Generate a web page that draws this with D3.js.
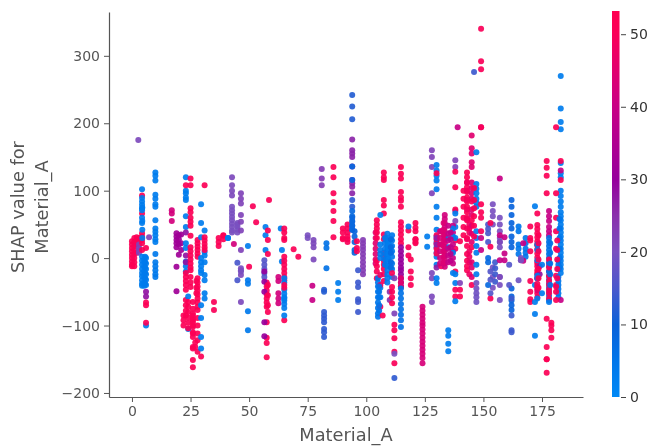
<!DOCTYPE html>
<html><head><meta charset="utf-8">
<script src="https://cdn.jsdelivr.net/npm/d3@7/dist/d3.min.js"></script>
<style>
html,body{margin:0;padding:0;background:#fff;overflow:hidden}
svg{display:block;filter:blur(.55px)}
text{font-family:"DejaVu Sans",sans-serif}
</style></head><body>
<script>
const xLabel = "Material_A";
const yLabelLines = ["SHAP value for", "Material_A"];
const xTicks = [0,25,50,75,100,125,150,175];
const yTicks = [-200,-100,0,100,200,300];
const barTicks = [0,10,20,30,40,50];
const barStops = [[0,"#0088f5"],[5,"#0076ea"],[10,"#0a60d8"],[15,"#4a58cc"],[20,"#7a50c0"],[25,"#8a30ac"],[30,"#96009c"],[40,"#c80085"],[50,"#fa0058"],[53.2,"#ff0050"]];

// one entry per vertical strip of dots: x value, colour feature value, SHAP values
const stripX = [
0,1,2,3,2.7,3,
4.3,4.3,4.3,7.3,6,6,6,10,10,
17,19,20,21,19,
23,23,23,25,25,26,26,24,27,
28,28,29.5,29.5,31,31,35,
37,39,41,
42.7,42.7,45,46.5,46.5,41,43.5,51.6,58.5,53,49.5,45,46.5,50,49.5,
57,58,56.5,57.5,56.5,58,
62.5,63.5,64,65,65,65,65,69,71,
75,77.5,77,83,82,82,81,86,88,
90,92,94,94,94,94,98.6,96.5,95,96,
104,104.5,105,107.5,107.5,106,106,109,111,110,111,112,107,
114.8,114.8,114.8,114.8,112,112,112,
118,118,121,119,121,124,
126,128,128,130,130,130,132,133.5,135,
138,138,138,137,137,140,140,135,139,143,144,145,145,147,147,147,149,149,149,146,
152,154,153,155,157,152,153,159,157,157,
162,162,162,161,165,168,167,170,170,166,165,
172,173,173,173,174,173,175,
178,178,178,177,179,177,178,
183,183,182,181,182,183,181,183,177,
// denser parts of the cloud
5.2,5.6,4.4,
22,24,26,27.5,
105.5,108,109.5,110.5,
131.5,133,135,136,
141.5,143,146,
173.5,178.5,182.5,181.5
];
const stripC = [
51,51,51,51,21,22,
3,51,3,22,3,28,51,3,4,
42,32,32,32,32,
3,51,28,51,51,51,51,3,51,
51,51,3,51,3,51,50,
51,51,3,
21,20,20,22,21,3,42,50,50,50,3,15,20,50,4,
3,51,16,51,30,51,
42,3,3,51,3,51,3,51,51,
20,21,40,6,12,13,23,51,3,
51,50,12,26,13,8,23,14,9,51,
45,51,5,51,51,3,48,3,4,25,51,22,51,
51,30,45,6,50,20,13,
51,4,51,51,51,43,
3,22,21,3,51,27,49,42,4,
22,51,3,40,3,51,22,3,40,51,48,45,51,3,3,19,50,40,51,14,
15,20,51,14,20,8,16,40,40,21,
9,9,14,16,5,5,40,51,51,20,19,
3,51,51,45,28,3,3,
40,6,51,51,51,51,4,
3,3,6,51,5,40,51,51,51,
3,4,3,
51,51,51,51,
5,4,3,7,
42,44,40,38,
51,49,51,
51,6,5,51
];
const stripY = [
[25,20,15,10,5,0,-5,-10,-12],[30,24,18,12,6,0,-6,-12],[31,26,20,8],[30,27],[175],[20,15,12,8],
[2,-4,-10,-16,-22,-27,-33,-38,-41],[93,66,37,32,27,22,12],[102,89,84,79,74,71,60,52],[31],[0,-8,-16,-24,-32,-40,-100],[-50,-57],[15,-70,-66,-96],[127,122,115,94,88,80,76,56,44,39,34,28,24],[6,-6,-12,-18,-24,-28],
[71,66,55],[37,32,27,22,16],[34,28,20,5],[35,22,12],[-13,-49],
[120,100,96,90,86,62,46,22,15,-5,-12,-20],[108,-22,-28,-34,-40,-47,-62,-70,-78,-85],[38,4,-6],[118,108,74,68,60,54,48,33],[16,10,4,-2,-8,-14,-18,-28,-36,-43],[-65,-75,-82,-90,-95,-102,-110,-117],[-132,-134,-151,-162],[-57,-105],[-125,-132],
[27,22,17,12,7,2],[-30,-36,-42,-48,-54,-60,-66,-72,-77,-89,-100,-112,-122,-139],[80,52,31,0,-6,-12,-18,-22,-70,-89,-117,-134],[-146],[41,9,4,-6,-25,-33,-52,-60],[108,31,26,21,16,12],[-65,-77],
[30,24,18],[34,28,33],[30],
[120,108,100,93],[76,71,66,61,56,51,46,41,38],[52,47,42,38,50],[96,88,81,64,54,41,12],[-18,-25,-65],[30],[21],[77],[86],[53],[18],[-7,-33],[-15,-20],[-13],[-33,-38,-79,-107],
[46,34,12],[41,27,6],[-3,-10,-16,-22,-28],[-36,-42,-48,-54,-60,-66,-72,-118,-126,-147,-95],[-20,-35,-50,-95,-116],[-40,-55,-70,-80],
[-28,-34,-52,-60,-67],[44],[12,-5],[44,38,30,27,2,-4,-10,-16,-22,-28,-33,-92],[-30,-36,-47,-53,-58,-63,-68,-74,-85],[-40,-44],[-60],[13],[2],
[34,30],[27,22,16,-2],[-41,-62],[22,15,-15],[-47,-50],[-80,-85,-90,-95,-105,-110,-117],[132,118,108],[135,120,96,83,70,55,31],[-37,-50,-62],
[44,38,30,28],[50,44,38,32,28,24],[242,225,206],[176,160,155,150,136,116,111,106,96],[60,54,48,42,86,76],[136,116,70,62,55,48,42],[27,22,17,12,6,0,-6,-12,-18,-24],[-18,-43,-36,-61,-65,-80],[40,32,24,12,8],[25,15,10],
[38,30,22,14,6,-2,-8],[56,50,44,38,30,-4,-12,-20,-30],[-30,-36,-42,-50,-58,-66,-74,-82,-87],[127,120,116,86,78,66,35,28],[8,2,-4,-10,-16,-24,-34],[64,20,12,6,0,-44,-58],[-25,-40,-72],[36,30,24,18,12,6,0,-6,-12,-18,-24,-30,-36],[34,26,18,10,2,-8,-16,-28],[-50,-62],[-43,-50,-58,-67,-22],[-30,-82],[-85],
[135,125,118,98,90,85,76,53,47,41,35,28,22],[16,10,4,-2,-8,-14,-18,-24,-30,-36,-42],[-30,-36,-42],[-45,-52,-60,-68,-76,-84,-92,-102],[-99,-107,-119,-139,-156],[-142],[-178],
[41,16,4],[47],[52,45,40,28,24],[-2,-20,-40,-30],[22,28],[-72,-78,-84,-90,-96,-100,-106,-112,-118,-124,-130,-136,-142,-148,-156],
[17,32],[160,150,135,96],[-22,-30,-57,-65],[138,130,122,115,102,76,60,42,32,24,16,8,2,-10,-30,-37],[126,34,28,22,14,7],[30,20,-14],[40,20,-12],[64,58,52,46,40,34,28,22,16,10,4,-2,-8,-13],[30,16],
[145,135,70,55],[128,105,72,26,14,-20,-47,-57],[66,46,30,-37,-24,-64],[48,38,20,10,0,-8],[44,32,8,-22],[-47,-57,25],[-37],[-107,-115,-127,-138],[194],[127,120,112,105,98,90,84,76,68,60,56,30,18,6,-4,-12,-18],[50,44,38,10,2,-6,-24],[182,163,155,142,135,112,104,96,88,72,64,48,36,24,-6,-14,-28],[84,56,16,-40],[157,110,103,96,88,82,76,40,-24,-10],[30,18,8],[-37,-45,-52,-58,-65],[340,292,280,60,40],[194,30,12],[194,80,68],[276],
[50,43,37,24],[80,70,62,50,-14,-28,-44],[17,52,-60],[-6,-15,-24,-35],[60,50,40,30,24,16,-28,-62,-40],[0,-6,-40],[-20,-32,-52],[31,7,-3],[-3,118,34],[-28,24],
[86,76,64,52,44,32,24,16],[-45,-57,-63,-70,-77],[-85,-107,-110,-60],[-40,-10],[47,40,20,14,6],[30,22,14,8,2],[-4,22],[47,30,10,-34,-61,-50],[26,-65],[-3,0,-3],[-33],
[77,-65,-83,-115,-40],[66,49,43,37,31,25,19,13,7,1,-5,-12,-18,-24,-30,-38,-45,-52],[-58,-42,20,-22,-8],[-30,-48],[-12,-24],[20,12,-3,-30,-60,-26],[-52,-10],
[70,62,55,46,40,34,-8,-20],[30,24,18,12,6,0,-6,-12,-20,-26,-32,-38,-44,-50,-56,-62],[-2,-14,-27,-34,-40,-47,-52,-60],[-90,-132,-150,-170],[-96,-100,-107,-118],[-150,96,144],[-65],
[126,141,222,270,202,191],[120,100,92,84,76,68,62,56,50,44,38,32,26,20,14,8,2,-4,-10,-16,-22],[-4,-10,-16],[60,40,14,-26,-40],[-28,-34,-40,-46,-52,-58],[-62,130],[194,96,-62,-50,-42],[116,144],[134,122],
[-4,-12,-20,-28,-36,-41],[2,-6,-14,-22,-30,-38],[30,42,55,75],
[-85,-92,-100],[-65,-72,-80,-88,-96,-104],[-85,-92,-100,-112],[-34,-44,-52],
[-42,-50,-58,-70,-78],[30,22,14,6,-2,-10],[22,14,6,-2,-12],[28,16,8,-6,-14],
[40,30,20,10,0,-8],[52,42,34,26,18,10,2,-6],[48,36,26,14,4,-6],[38,28,16,6,-4],
[100,88,76,60,46,34],[112,100,86,72,58,44,28],[104,86,74,62,48,32],
[34,22,10,-2,-16,-30,-44],[22,8,-8,-24,-40],[58,44,30,14,0,-14],[26,12,-2,-16,-30]
];

const W = 649, H = 446;
const x = d3.scaleLinear().domain([-9.8,192.5]).range([109,583]);
const y = d3.scaleLinear().domain([-206,365]).range([397,12]);
const color = d3.scaleLinear().domain(barStops.map(d=>d[0])).range(barStops.map(d=>d[1])).clamp(true);
const barY = d3.scaleLinear().domain([0,53.2]).range([397,11]);

const svg = d3.select("body").append("svg").attr("width",W).attr("height",H);

const pts = stripX.flatMap((sx,i)=>stripY[i].map(v=>({x:sx,c:stripC[i],v})));
svg.append("g").selectAll("circle").data(pts).join("circle")
  .attr("cx",d=>x(d.x)).attr("cy",d=>y(d.v)).attr("r",3)
  .attr("fill",d=>color(d.c)).attr("fill-opacity",.92);

function style(g,fs,col,line){
  g.selectAll("text").attr("font-size",fs).attr("fill",col);
  g.selectAll("line").attr("stroke",line);
  g.selectAll(".domain").attr("stroke",line).attr("stroke-width",1.2);
}
const gx = svg.append("g").attr("transform","translate(0,397)")
  .call(d3.axisBottom(x).tickValues(xTicks).tickSize(5).tickSizeOuter(0).tickPadding(4));
style(gx,14,"#555","#555");
const gy = svg.append("g").attr("transform","translate(109,0)")
  .call(d3.axisLeft(y).tickValues(yTicks).tickSize(5).tickSizeOuter(0).tickPadding(4));
style(gy,14,"#555","#555");

svg.append("text").attr("x",346).attr("y",441).attr("text-anchor","middle")
  .attr("font-size",17.8).attr("fill","#555").text(xLabel);
yLabelLines.forEach((t,i)=>{
  svg.append("text").attr("transform",`translate(${24+i*24},207) rotate(-90)`)
    .attr("text-anchor","middle").attr("font-size",17.8).attr("fill","#555").text(t);
});

const defs = svg.append("defs");
const grad = defs.append("linearGradient").attr("id","bar").attr("x1",0).attr("x2",0).attr("y1",1).attr("y2",0);
barStops.forEach(s=>grad.append("stop").attr("offset",s[0]/53.2).attr("stop-color",s[1]));
svg.append("rect").attr("x",612).attr("y",11).attr("width",7.5).attr("height",386).attr("fill","url(#bar)");
const gb = svg.append("g").attr("transform","translate(621,0)")
  .call(d3.axisRight(barY).tickValues(barTicks).tickSize(5).tickSizeOuter(0).tickPadding(4));
gb.select(".domain").remove();
style(gb,14,"#333","#444");
</script>
</body></html>
